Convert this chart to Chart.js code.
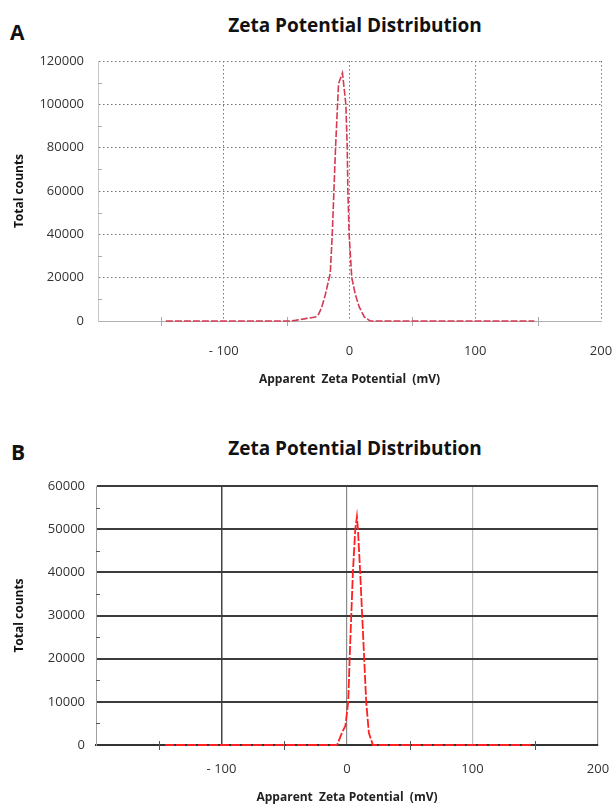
<!DOCTYPE html>
<html>
<head>
<meta charset="utf-8">
<script src="https://cdn.jsdelivr.net/npm/chart.js@4.4.1/dist/chart.umd.min.js"></script>
<style>
  body { margin: 0; background: #fff; width: 616px; height: 805px; position: relative; overflow: hidden; font-family: "Open Sans", sans-serif; }
  .panel { position: absolute; left: 0; }
  .letter { position: absolute; font-weight: bold; font-size: 21px; color: #111; line-height: 1; }
  .title { position: absolute; left: 155px; width: 400px; text-align: center; font-weight: bold; font-size: 19px; color: #111; line-height: 1; }
</style>
</head>
<body>
<div class="letter" style="left:10px; top:22px;">A</div>
<div class="title" style="top:16px;">Zeta Potential Distribution</div>
<div class="panel" style="top:0;"><canvas id="chartA" width="616" height="400"></canvas></div>

<div class="letter" style="left:11px; top:442px;">B</div>
<div class="title" style="top:439px;">Zeta Potential Distribution</div>
<div class="panel" style="top:420px;"><canvas id="chartB" width="616" height="385"></canvas></div>

<script>
// sample A
const zetaA = [-146, -120, -100, -80, -60, -48, -43, -35, -27, -24.6, -22, -19.3, -17.5, -15.3, -13.7, -12.4, -11.1, -9.5, -8.7, -5.6,
  -2.9, -1.8, -1.3, -0.3, 1.8, 4.5, 7.7, 11.9, 16.4, 30, 60, 100, 147];
const countsA = [0, 0, 0, 0, 0, 0, 300, 1100, 1850, 3100, 6500, 12000, 16500, 22000, 40000, 60000, 80000, 100000, 109600, 114500,
  100000, 80000, 60000, 40000, 20000, 12600, 6500, 1800, 0, 0, 0, 0, 0];

// sample B
const zetaB = [-145, -120, -100, -60, -20, -7.9, -4, -1.3, 1.0, 2.1, 3.4, 4.7, 6.6, 7.9,
  8.7, 10.5, 12.1, 13.7, 15.3, 17.4, 20.6, 40, 80, 120, 148];
const countsB = [0, 0, 0, 0, 0, 0, 2850, 4400, 10000, 20000, 30000, 40000, 50000, 52900,
  50000, 40000, 30000, 20000, 10000, 2850, 0, 0, 0, 0, 0];

const xMin = -200, xMax = 200, xStep = 100;
const xMinorTicks = [-150, -50, 50, 150];
const yMaxA = 120000, yStepA = 20000;
const yMinorA = [10000, 30000, 50000, 70000, 90000, 110000];
const yMaxB = 60000, yStepB = 10000;
const yMinorB = [5000, 15000, 25000, 35000, 45000, 55000];

const xTitle = 'Apparent  Zeta Potential  (mV)';
const yTitle = 'Total counts';

function toPoints(xs, ys) {
  return xs.map((x, i) => ({x: x, y: ys[i]}));
}

function xLabel(v) {
  if (v === xMin) return '';
  return v < 0 ? '- ' + Math.abs(v) : String(v);
}

// short tick marks on the axes between the labelled values
const minorTicks = {
  id: 'minorTicks',
  beforeDatasetsDraw(chart, args, opts) {
    const {ctx, chartArea, scales} = chart;
    ctx.save();
    ctx.lineWidth = 1;
    ctx.strokeStyle = opts.color;
    ctx.beginPath();
    opts.y.forEach(v => {
      const py = Math.round(scales.y.getPixelForValue(v)) + 0.5;
      ctx.moveTo(chartArea.left, py);
      ctx.lineTo(chartArea.left + 4, py);
    });
    opts.x.forEach(v => {
      const px = Math.round(scales.x.getPixelForValue(v)) + 0.5;
      ctx.moveTo(px, chartArea.bottom - 4);
      ctx.lineTo(px, chartArea.bottom + 5);
    });
    ctx.stroke();
    ctx.restore();
  }
};

const tickFont = {family: 'Open Sans', size: 13};
const titleFont = {family: 'Open Sans', size: 12, weight: 'bold'};

function makeChart(id, s) {
  return new Chart(document.getElementById(id), {
    type: 'line',
    data: {
      datasets: [{
        data: s.points,
        borderColor: s.lineColor,
        borderWidth: s.lineWidth,
        borderDash: s.lineDash,
        pointRadius: 0,
        tension: 0,
        fill: false,
        clip: 4
      }]
    },
    plugins: [minorTicks],
    options: {
      responsive: false,
      animation: false,
      devicePixelRatio: 1,
      layout: {padding: s.padding},
      plugins: {
        legend: {display: false},
        tooltip: {enabled: false},
        minorTicks: {x: xMinorTicks, y: s.yMinor, color: s.minorColor}
      },
      scales: {
        x: {
          type: 'linear',
          min: xMin,
          max: xMax,
          afterFit: sc => { sc.height = s.xHeight; },
          // the label gap comes from an invisible tick length so it stays out of the side padding
          ticks: {stepSize: xStep, callback: xLabel, color: '#333', font: tickFont, padding: 0, maxRotation: 0},
          grid: {
            drawTicks: true,
            tickLength: s.xTickGap,
            tickColor: 'rgba(0,0,0,0)',
            color: c => s.xGridColor(c.tick.value),
            lineWidth: c => s.xGridWidth(c.tick.value)
          },
          border: {display: true, color: s.xAxisColor, width: s.xAxisWidth, dash: s.gridDash},
          title: {display: true, text: xTitle, color: '#222', font: titleFont, padding: {top: 0, bottom: s.xTitlePad}}
        },
        y: {
          min: 0,
          max: s.yMax,
          afterFit: sc => { sc.width = s.yWidth; },
          ticks: {stepSize: s.yStep, callback: v => String(v), color: '#333', font: tickFont, padding: s.yTickPad},
          grid: {
            drawTicks: false,
            color: c => c.tick.value === 0 ? 'rgba(0,0,0,0)' : s.yGridColor,
            lineWidth: s.yGridWidth
          },
          border: {display: true, color: s.yAxisColor, width: 1, dash: s.gridDash},
          title: {display: true, text: yTitle, color: '#111', font: titleFont, padding: {top: 12, bottom: 0}}
        }
      }
    }
  });
}

makeChart('chartA', {
  points: toPoints(zetaA, countsA),
  lineColor: '#d43a52',
  lineWidth: 1.6,
  lineDash: [7, 2],
  padding: {top: 61, right: 15, left: 0, bottom: 0},
  xHeight: 79,
  yWidth: 98,
  xTickGap: 22,
  yTickPad: 14,
  xTitlePad: 13,
  yMax: yMaxA,
  yStep: yStepA,
  yMinor: yMinorA,
  minorColor: '#aaa',
  gridDash: [1.5, 2.5],
  xGridColor: v => v === xMin ? 'rgba(0,0,0,0)' : '#777',
  xGridWidth: v => 1,
  yGridColor: '#777',
  yGridWidth: 1,
  xAxisColor: '#b0b0b0',
  xAxisWidth: 1,
  yAxisColor: '#c8c8c8'
});

const gridShadeB = {'-100': '#444', '0': '#8a8a8a', '100': '#bdbdbd', '200': '#9a9a9a'};
makeChart('chartB', {
  points: toPoints(zetaB, countsB),
  lineColor: '#ff2020',
  lineWidth: 1.8,
  lineDash: [9, 2],
  padding: {top: 66, right: 18, left: 0, bottom: 0},
  xHeight: 60,
  yWidth: 96,
  xTickGap: 16,
  yTickPad: 11,
  xTitlePad: 0,
  yMax: yMaxB,
  yStep: yStepB,
  yMinor: yMinorB,
  minorColor: '#555',
  gridDash: [],
  xGridColor: v => gridShadeB[String(v)] || 'rgba(0,0,0,0)',
  xGridWidth: v => v === -100 ? 1.5 : 1.2,
  yGridColor: '#3c3c3c',
  yGridWidth: 2,
  xAxisColor: '#333',
  xAxisWidth: 2,
  yAxisColor: '#a0a0a0'
});
</script>
</body>
</html>
